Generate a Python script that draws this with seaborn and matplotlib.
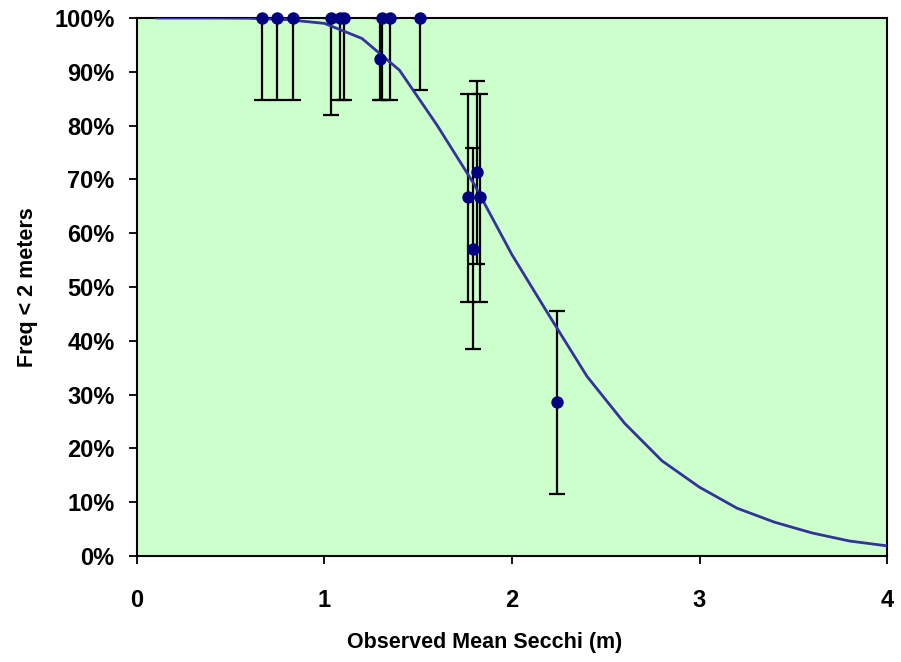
import matplotlib
matplotlib.use("Agg")
import matplotlib.pyplot as plt
import seaborn as sns
import numpy as np
import pandas as pd
from matplotlib.ticker import PercentFormatter, MultipleLocator

# Observed points (Secchi mean, frequency < 2 m, CI low, CI high) in %
obs_x = [0.665, 0.745, 0.830, 1.033, 1.083, 1.106, 1.296, 1.305, 1.349, 1.510,
         1.767, 1.790, 1.812, 1.831, 2.242]
obs_y = [100, 100, 100, 100, 100, 100, 92.3, 100, 100, 100,
         66.7, 57.1, 71.4, 66.7, 28.6]
obs_lo = [84.8, 84.8, 84.8, 82.0, 84.8, 84.8, 84.8, 84.8, 84.8, 86.6,
          47.3, 38.4, 54.3, 47.3, 11.5]
obs_hi = [100, 100, 100, 100, 100, 100, 100, 100, 100, 100,
          85.9, 75.8, 88.3, 85.9, 45.5]

# Fitted curve
fit_x = [0.1, 0.2, 0.4, 0.6, 0.8, 1.0, 1.2, 1.4, 1.6, 1.8, 2.0, 2.2, 2.4,
         2.6, 2.8, 3.0, 3.2, 3.4, 3.6, 3.8, 4.0]
fit_y = [100, 100, 100, 99.95, 99.7, 99.0, 96.2, 90.3, 80.1, 69.0, 56.0,
         44.6, 33.4, 24.7, 17.7, 12.8, 8.9, 6.3, 4.3, 2.8, 1.9]

x_ticks = [0, 1, 2, 3, 4]

sns.set_style("white")
plt.rcParams['font.family'] = ['Liberation Sans', 'DejaVu Sans']
plt.rcParams['text.color'] = 'black'
plt.rcParams['axes.labelcolor'] = 'black'
plt.rcParams['xtick.color'] = 'black'
plt.rcParams['ytick.color'] = 'black'

fig = plt.figure(figsize=(9.01, 6.62), dpi=100)
ax = fig.add_axes([0.152, 0.160, 0.8325, 0.8128])
ax.set_facecolor("#CCFFCC")

obs = pd.DataFrame({"x": obs_x, "y": obs_y, "lo": obs_lo, "hi": obs_hi})
fit = pd.DataFrame({"x": fit_x, "y": fit_y})

ax.errorbar(obs["x"], obs["y"],
            yerr=[obs["y"] - obs["lo"], obs["hi"] - obs["y"]],
            fmt="none", ecolor="black", elinewidth=1.6, capsize=5.5,
            capthick=1.6, zorder=2)
sns.lineplot(data=fit, x="x", y="y", ax=ax, color="#333399", linewidth=2,
             zorder=3, sort=False)
sns.scatterplot(data=obs, x="x", y="y", ax=ax, color="#000080", s=80,
                edgecolor="#000080", linewidth=0, zorder=4, clip_on=False)

ax.set_xlim(0, 4)
ax.set_ylim(0, 100)
ax.set_xticks(x_ticks)
ax.set_xticklabels([str(t) for t in x_ticks])
ax.yaxis.set_major_locator(MultipleLocator(10))
ax.yaxis.set_major_formatter(PercentFormatter(decimals=0))

for s in ax.spines.values():
    s.set_color("black")
    s.set_linewidth(1.5)

ax.tick_params(axis="both", which="major", direction="out", length=6,
               width=1.3, color="black", bottom=True, left=True,
               labelsize=17, labelcolor="black")
ax.tick_params(axis="x", pad=18)
ax.tick_params(axis="y", pad=10)
for lbl in ax.get_xticklabels() + ax.get_yticklabels():
    lbl.set_fontweight("bold")

ax.set_xlabel("Observed Mean Secchi (m)", fontsize=15.5, fontweight="bold")
ax.xaxis.set_label_coords(0.463, -0.142)
ax.set_ylabel("Freq < 2 meters", fontsize=15.5, fontweight="bold",
              labelpad=12)

fig.savefig("out.png", dpi=100, facecolor="white")
